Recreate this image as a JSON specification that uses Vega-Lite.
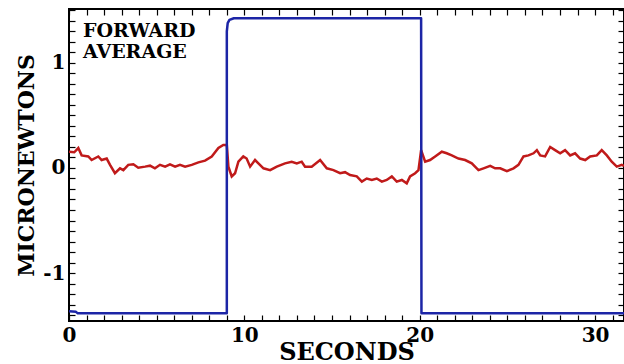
{
  "$schema": "https://vega.github.io/schema/vega-lite/v6.json",
  "autosize": {"type": "none"},
  "padding": {"left": 69, "top": 9, "right": 0, "bottom": 43},
  "width": 555,
  "height": 312,
  "background": "white",
  "config": {
    "view": {"stroke": "black", "strokeWidth": 2},
    "axis": {
      "domain": false,
      "grid": false,
      "tickColor": "black",
      "tickWidth": 1.2,
      "tickSize": -6,
      "labelFont": "DejaVu Serif",
      "labelFontWeight": "bold",
      "labelFontSize": 20,
      "labelColor": "black",
      "labelFlush": false,
      "titleFont": "DejaVu Serif",
      "titleFontWeight": "bold",
      "titleColor": "black"
    }
  },
  "datasets": {
    "force": [
      {"t": 0, "v": -1.365}, {"t": 0.4, "v": -1.37}, {"t": 0.5, "v": -1.384},
      {"t": 9.0, "v": -1.384}, {"t": 9.0, "v": 1.30}, {"t": 9.05, "v": 1.38},
      {"t": 9.15, "v": 1.41}, {"t": 9.4, "v": 1.426}, {"t": 20.08, "v": 1.426},
      {"t": 20.1, "v": -1.384}, {"t": 31.65, "v": -1.384}
    ],
    "noise": [
      {"t": 0, "v": 0.155}, {"t": 0.3, "v": 0.15}, {"t": 0.53, "v": 0.19}, {"t": 0.72, "v": 0.12},
      {"t": 1.1, "v": 0.11}, {"t": 1.29, "v": 0.076}, {"t": 1.67, "v": 0.11}, {"t": 1.86, "v": 0.076},
      {"t": 2.15, "v": 0.09}, {"t": 2.34, "v": 0.03}, {"t": 2.62, "v": -0.05}, {"t": 2.91, "v": -0.003},
      {"t": 3.1, "v": -0.02}, {"t": 3.38, "v": 0.03}, {"t": 3.67, "v": 0.035}, {"t": 3.95, "v": 0.003},
      {"t": 4.34, "v": 0.013}, {"t": 4.62, "v": 0.022}, {"t": 4.9, "v": -0.003}, {"t": 5.19, "v": 0.03},
      {"t": 5.48, "v": 0.013}, {"t": 5.76, "v": 0.035}, {"t": 6.05, "v": 0.013}, {"t": 6.33, "v": 0.03},
      {"t": 6.62, "v": 0.013}, {"t": 7.0, "v": 0.03}, {"t": 7.38, "v": 0.054}, {"t": 7.76, "v": 0.07},
      {"t": 8.14, "v": 0.11}, {"t": 8.52, "v": 0.19}, {"t": 8.8, "v": 0.22}, {"t": 9.0, "v": 0.22},
      {"t": 9.09, "v": 0.013}, {"t": 9.28, "v": -0.08}, {"t": 9.47, "v": -0.05}, {"t": 9.66, "v": 0.06},
      {"t": 9.94, "v": 0.11}, {"t": 10.13, "v": 0.09}, {"t": 10.33, "v": 0.013}, {"t": 10.61, "v": 0.076},
      {"t": 10.8, "v": 0.044}, {"t": 11.09, "v": -0.003}, {"t": 11.47, "v": -0.02}, {"t": 11.85, "v": 0.013},
      {"t": 12.32, "v": 0.044}, {"t": 12.7, "v": 0.06}, {"t": 12.99, "v": 0.044}, {"t": 13.27, "v": 0.06},
      {"t": 13.46, "v": 0.013}, {"t": 13.84, "v": 0.013}, {"t": 14.32, "v": 0.076}, {"t": 14.7, "v": -0.003},
      {"t": 15.08, "v": -0.02}, {"t": 15.46, "v": -0.05}, {"t": 15.74, "v": -0.04}, {"t": 16.03, "v": -0.067},
      {"t": 16.41, "v": -0.08}, {"t": 16.7, "v": -0.13}, {"t": 16.98, "v": -0.1}, {"t": 17.27, "v": -0.114},
      {"t": 17.55, "v": -0.1}, {"t": 17.84, "v": -0.13}, {"t": 18.12, "v": -0.114}, {"t": 18.41, "v": -0.08},
      {"t": 18.69, "v": -0.13}, {"t": 18.98, "v": -0.114}, {"t": 19.26, "v": -0.146}, {"t": 19.45, "v": -0.08},
      {"t": 19.74, "v": -0.05}, {"t": 19.93, "v": -0.02}, {"t": 20.08, "v": 0.17}, {"t": 20.31, "v": 0.06},
      {"t": 20.59, "v": 0.076}, {"t": 20.88, "v": 0.11}, {"t": 21.26, "v": 0.155}, {"t": 21.54, "v": 0.14},
      {"t": 21.83, "v": 0.12}, {"t": 22.21, "v": 0.09}, {"t": 22.59, "v": 0.076}, {"t": 22.97, "v": 0.044},
      {"t": 23.35, "v": -0.02}, {"t": 23.64, "v": -0.003}, {"t": 24.02, "v": 0.02}, {"t": 24.3, "v": -0.003},
      {"t": 24.59, "v": -0.003}, {"t": 24.97, "v": -0.03}, {"t": 25.35, "v": -0.003}, {"t": 25.63, "v": 0.03},
      {"t": 25.92, "v": 0.11}, {"t": 26.2, "v": 0.12}, {"t": 26.49, "v": 0.14}, {"t": 26.68, "v": 0.17},
      {"t": 26.87, "v": 0.12}, {"t": 27.15, "v": 0.11}, {"t": 27.44, "v": 0.2}, {"t": 27.72, "v": 0.17},
      {"t": 28.01, "v": 0.14}, {"t": 28.29, "v": 0.17}, {"t": 28.58, "v": 0.12}, {"t": 28.86, "v": 0.14},
      {"t": 29.15, "v": 0.09}, {"t": 29.44, "v": 0.076}, {"t": 29.72, "v": 0.11}, {"t": 30.1, "v": 0.12},
      {"t": 30.38, "v": 0.17}, {"t": 30.67, "v": 0.12}, {"t": 30.95, "v": 0.06}, {"t": 31.24, "v": 0.013},
      {"t": 31.52, "v": 0.03}, {"t": 31.65, "v": 0.02}
    ]
  },
  "layer": [
    {
      "data": {"name": "noise"},
      "mark": {"type": "line", "color": "#c01a1a", "strokeWidth": 2.5, "clip": true},
      "encoding": {
        "x": {"field": "t", "type": "quantitative",
          "scale": {"domain": [0, 31.65], "nice": false, "zero": false},
          "axis": {"orient": "top", "labels": false, "title": null,
            "values": [0,1,2,3,4,5,6,7,8,9,10,11,12,13,14,15,16,17,18,19,20,21,22,23,24,25,26,27,28,29,30,31]}},
        "y": {"field": "v", "type": "quantitative",
          "scale": {"domain": [-1.457, 1.514], "nice": false, "zero": false},
          "axis": {"orient": "right", "labels": false, "title": null,
            "values": [-1.4,-1.3,-1.2,-1.1,-1,-0.9,-0.8,-0.7,-0.6,-0.5,-0.4,-0.3,-0.2,-0.1,0,0.1,0.2,0.3,0.4,0.5,0.6,0.7,0.8,0.9,1,1.1,1.2,1.3,1.4,1.5]}}
      }
    },
    {
      "data": {"name": "force"},
      "mark": {"type": "line", "color": "#1c25a6", "strokeWidth": 2.5, "clip": true, "strokeJoin": "round"},
      "encoding": {
        "x": {"field": "t", "type": "quantitative",
          "axis": {"orient": "bottom", "title": "SECONDS", "titleFontSize": 24, "titlePadding": -5, "labelPadding": 10,
            "labelExpr": "datum.value % 10 == 0 ? datum.label : ''",
            "values": [0,1,2,3,4,5,6,7,8,9,10,11,12,13,14,15,16,17,18,19,20,21,22,23,24,25,26,27,28,29,30,31]}},
        "y": {"field": "v", "type": "quantitative",
          "axis": {"orient": "left", "title": "MICRONEWTONS", "titleFontSize": 22, "labelPadding": 10,
            "labelExpr": "abs(datum.value - round(datum.value)) < 0.001 ? round(datum.value) + '' : ''",
            "values": [-1.4,-1.3,-1.2,-1.1,-1,-0.9,-0.8,-0.7,-0.6,-0.5,-0.4,-0.3,-0.2,-0.1,0,0.1,0.2,0.3,0.4,0.5,0.6,0.7,0.8,0.9,1,1.1,1.2,1.3,1.4,1.5]}}
      }
    },
    {
      "data": {"values": [{}]},
      "mark": {"type": "text", "align": "left", "baseline": "alphabetic", "font": "DejaVu Serif", "fontWeight": "bold", "fontSize": 19, "lineHeight": 21, "color": "black"},
      "encoding": {
        "x": {"datum": 0.8, "type": "quantitative", "axis": null},
        "y": {"datum": 1.25, "type": "quantitative", "axis": null},
        "text": {"value": ["FORWARD", "AVERAGE"]}
      }
    }
  ],
  "resolve": {"axis": {"x": "independent", "y": "independent"}}
}
